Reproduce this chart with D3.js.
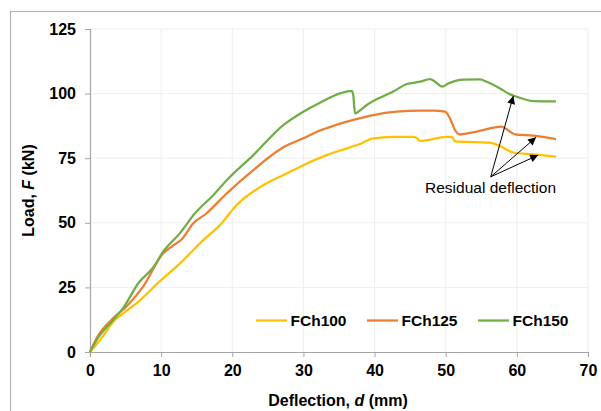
<!DOCTYPE html>
<html>
<head>
<meta charset="utf-8">
<script src="https://cdn.jsdelivr.net/npm/d3@7"></script>
<style>
  body { margin: 0; background: #fff; }
  svg { display: block; font-family: "Liberation Sans", Arial, sans-serif; }
</style>
</head>
<body>
<script>
var width = 601;
var height = 411;
var paddingLeft = 90;
var paddingTop = 29;
var plotWidth = 498;
var plotHeight = 323;

// tick values
var xTicks = [0, 10, 20, 30, 40, 50, 60, 70];
var yTicks = [0, 25, 50, 75, 100, 125];

// series: [deflection (mm), load (kN)]
var seriesNames = ["FCh100", "FCh125", "FCh150"];
var seriesColors = ["#FFC000", "#ED7D31", "#70AD47"];

var fch100 = [[0, 0], [1.41, 4.6], [3.51, 12.4], [4.68, 15.0], [6.56, 18.9], [9.84, 27.4], [12.65, 34.3],
  [15.93, 43.3], [18.27, 49.1], [20.62, 56.9], [24.36, 64.6], [27.65, 69.1], [29.98, 72.3], [33.27, 76.2],
  [36.55, 79.2], [37.95, 80.5], [39.82, 82.7], [42.63, 83.3], [45.45, 83.3], [45.9, 82.8], [46.39, 81.7],
  [50.14, 83.3], [50.84, 83.3], [51.31, 81.5], [56.23, 81.0], [57.63, 79.7], [59.5, 77.2], [62.3, 76.5],
  [65.5, 75.6]];

var fch125 = [[0, 0], [0.94, 5.4], [3.28, 13.1], [5.16, 17.7], [7.49, 25.4], [10.3, 38.2], [11.48, 40.8],
  [12.89, 43.6], [14.52, 49.8], [16.4, 53.7], [18.74, 60.1], [21.09, 66.0], [22.96, 70.4], [27.17, 79.2],
  [29.98, 82.7], [32.33, 85.7], [34.2, 87.5], [37.01, 89.8], [39.82, 91.7], [43.11, 93.0], [46.39, 93.4],
  [48.26, 93.4], [49.9, 93.0], [50.6, 90.4], [51.3, 85.9], [51.9, 84.2], [54.36, 85.3], [57.87, 87.2],
  [58.33, 86.6], [59.74, 84.2], [62.3, 83.7], [65.5, 82.4]];

var fch150 = [[0, 0], [0.94, 4.7], [3.28, 12.5], [4.68, 17.1], [6.79, 26.6], [8.9, 32.8], [10.3, 38.9],
  [12.65, 46.0], [14.76, 53.7], [17.33, 60.7], [19.22, 66.5], [22.96, 76.2], [27.17, 87.8], [29.98, 93.0],
  [32.33, 96.5], [35.14, 100.1], [36.79, 101.1], [37.0, 99.5], [37.25, 92.3], [37.72, 93.0], [38.9, 95.6],
  [42.63, 100.8], [44.52, 103.7], [46.39, 104.6], [47.79, 105.6], [48.5, 104.6], [49.5, 102.7],
  [50.37, 103.9], [52.47, 105.4], [54.82, 105.5], [55.76, 104.6], [57.63, 102.0], [59.04, 99.7],
  [59.98, 98.8], [62.31, 97.1], [65.5, 97.0]];

var seriesData = [fch100, fch125, fch150];

// annotation: arrow start and tips (data units)
var arrowFrom = [56.33, 67.8];
var arrowTips = [[59.5, 99.1], [62.7, 83.1], [63.0, 76.2]];
var annotationText = "Residual deflection";
var annotationPos = [56.3, 61.5];

var svg = d3.select("body").append("svg")
  .attr("width", width)
  .attr("height", height);

// outer chart border
svg.append("rect")
  .attr("x", 10.5)
  .attr("y", 11.5)
  .attr("width", 620)
  .attr("height", 420)
  .attr("fill", "#fff")
  .attr("stroke", "#b4b4b4")
  .attr("stroke-width", 1.2);

var xScale = d3.scaleLinear()
  .domain([0, 70])
  .range([0, plotWidth]);

var yScale = d3.scaleLinear()
  .domain([0, 125])
  .range([plotHeight, 0]);

var plot = svg.append("g")
  .attr("transform", "translate(" + paddingLeft + ", " + paddingTop + ")");

// gridlines
plot.append("g")
  .selectAll("line")
  .data(xTicks.slice(1))
  .enter()
    .append("line")
    .attr("x1", d => xScale(d))
    .attr("x2", d => xScale(d))
    .attr("y1", 0)
    .attr("y2", plotHeight)
    .attr("stroke", "#eeeeee")
    .attr("stroke-width", 1);

plot.append("g")
  .selectAll("line")
  .data(yTicks.slice(1))
  .enter()
    .append("line")
    .attr("x1", 0)
    .attr("x2", plotWidth)
    .attr("y1", d => yScale(d))
    .attr("y2", d => yScale(d))
    .attr("stroke", "#eeeeee")
    .attr("stroke-width", 1);

// axes
var xAxis = d3.axisBottom(xScale).tickValues(xTicks).tickSize(5).tickPadding(8);
var yAxis = d3.axisLeft(yScale).tickValues(yTicks).tickSize(5).tickPadding(9);

var gx = plot.append("g")
  .attr("transform", "translate(0, " + plotHeight + ")")
  .call(xAxis);
var gy = plot.append("g")
  .call(yAxis);

[gx, gy].forEach(g => {
  g.select(".domain").attr("stroke", "#a6a6a6").attr("stroke-width", 1.2);
  g.selectAll(".tick line").attr("stroke", "#a6a6a6");
  g.selectAll(".tick text")
    .attr("fill", "#000")
    .style("font-size", "16px")
    .style("font-weight", "bold")
    .style("font-family", "'Liberation Sans', Arial, sans-serif");
});

// curves
var line = d3.line()
  .x(d => xScale(d[0]))
  .y(d => yScale(d[1]))
  .curve(d3.curveMonotoneX);

plot.append("g")
  .selectAll("path")
  .data(seriesData)
  .enter()
    .append("path")
    .attr("d", d => line(d))
    .attr("fill", "none")
    .attr("stroke", (d, i) => seriesColors[i])
    .attr("stroke-width", 2.25)
    .attr("stroke-linejoin", "round");

// arrows
svg.append("defs").append("marker")
  .attr("id", "arrowhead")
  .attr("viewBox", "0 0 10 10")
  .attr("refX", 10)
  .attr("refY", 5)
  .attr("markerWidth", 10)
  .attr("markerHeight", 8)
  .attr("markerUnits", "userSpaceOnUse")
  .attr("orient", "auto")
  .append("path")
    .attr("d", "M0,0 L10,5 L0,10 Z")
    .attr("fill", "#000");

plot.append("g")
  .selectAll("line")
  .data(arrowTips)
  .enter()
    .append("line")
    .attr("x1", xScale(arrowFrom[0]))
    .attr("y1", yScale(arrowFrom[1]))
    .attr("x2", d => xScale(d[0]))
    .attr("y2", d => yScale(d[1]))
    .attr("stroke", "#000")
    .attr("stroke-width", 1)
    .attr("marker-end", "url(#arrowhead)");

plot.append("text")
  .attr("x", xScale(annotationPos[0]))
  .attr("y", yScale(annotationPos[1]))
  .attr("text-anchor", "middle")
  .style("font-size", "15.5px")
  .attr("fill", "#000")
  .text(annotationText);

// legend
var legendX = [256, 367, 478];
var legend = svg.append("g");
seriesNames.forEach((name, i) => {
  legend.append("line")
    .attr("x1", legendX[i])
    .attr("x2", legendX[i] + 31)
    .attr("y1", 320.5)
    .attr("y2", 320.5)
    .attr("stroke", seriesColors[i])
    .attr("stroke-width", 2.25);
  legend.append("text")
    .attr("x", legendX[i] + 34.5)
    .attr("y", 326)
    .style("font-size", "15.5px")
    .style("font-weight", "bold")
    .text(name);
});

// axis titles
var yTitle = svg.append("text")
  .attr("transform", "translate(34, 190.5) rotate(-90)")
  .attr("text-anchor", "middle")
  .style("font-size", "16px")
  .style("font-weight", "bold");
yTitle.append("tspan").text("Load, ");
yTitle.append("tspan").style("font-style", "italic").text("F");
yTitle.append("tspan").text(" (kN)");

var xTitle = svg.append("text")
  .attr("x", 338)
  .attr("y", 406)
  .attr("text-anchor", "middle")
  .style("font-size", "16px")
  .style("font-weight", "bold");
xTitle.append("tspan").text("Deflection, ");
xTitle.append("tspan").style("font-style", "italic").text("d");
xTitle.append("tspan").text(" (mm)");
</script>
</body>
</html>
